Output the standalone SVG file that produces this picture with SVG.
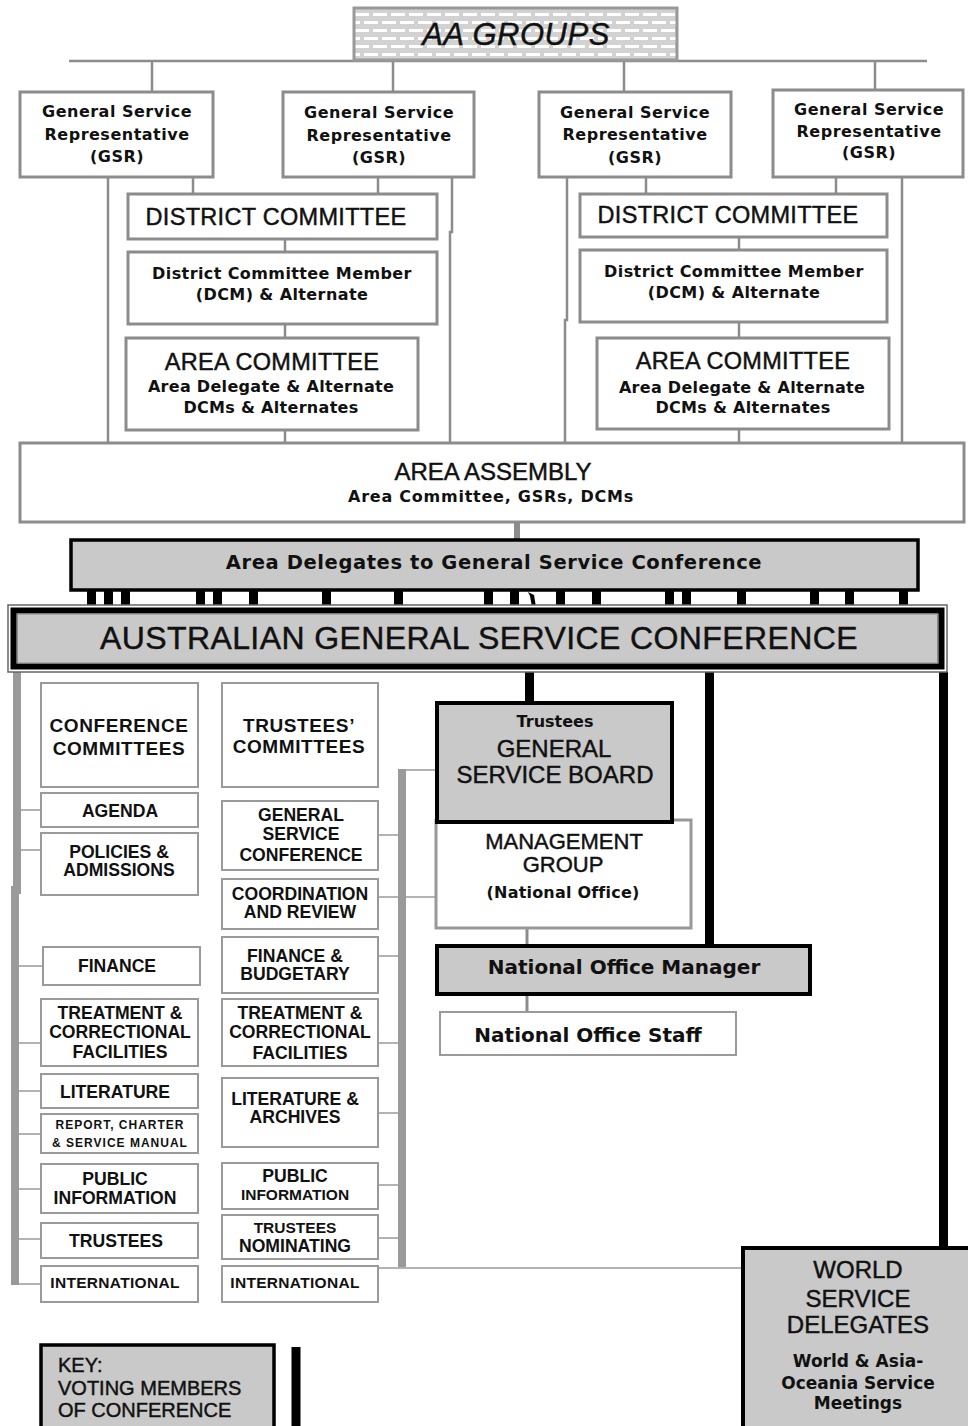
<svg xmlns="http://www.w3.org/2000/svg" width="968" height="1426" viewBox="0 0 968 1426">
<defs>
<pattern id="brick" width="18" height="16" patternUnits="userSpaceOnUse" x="354" y="8">
<rect width="18" height="16" fill="#d2d2d2"/>
<rect x="1" y="5" width="14" height="3" fill="#fff"/>
<rect x="10" y="13" width="8" height="3" fill="#fff"/>
<rect x="0" y="13" width="6" height="3" fill="#fff"/>
</pattern>
<style>
.g{fill:#fff;stroke:#8c8c8c;stroke-width:3}
.c{fill:#fff;stroke:#9a9a9a;stroke-width:2}
.d{fill:#c9c9c9;stroke:#000;stroke-width:4}
.ln{stroke:#8c8c8c;stroke-width:2.5;fill:none}
.lt{stroke:#9a9a9a;stroke-width:1.5;fill:none}
.gb{stroke:#9a9a9a;stroke-width:8;fill:none}
.bk{stroke:#000;stroke-width:9;fill:none}
.v{font-family:"DejaVu Sans",Verdana,sans-serif;font-weight:bold;fill:#111;text-anchor:middle;font-size:16px;letter-spacing:0.5px}
.a{font-family:"Liberation Sans",Arial,sans-serif;fill:#111;stroke:#111;stroke-width:0.45px;text-anchor:middle}
.ab{font-family:"Liberation Sans",Arial,sans-serif;font-weight:bold;fill:#111;text-anchor:middle;font-size:17.6px}
.s{font-size:15.5px}
.st{text-anchor:start}
</style>
</defs>

<g id="connectors">
<line class="ln" x1="69" y1="61" x2="927" y2="61"/>
<line class="ln" x1="152" y1="61" x2="152" y2="92"/>
<line class="ln" x1="393" y1="61" x2="393" y2="92"/>
<line class="ln" x1="624" y1="61" x2="624" y2="92"/>
<line class="ln" x1="875" y1="61" x2="875" y2="90"/>
<line class="ln" x1="108" y1="177" x2="108" y2="443"/>
<line class="ln" x1="193" y1="177" x2="193" y2="194"/>
<line class="ln" x1="378" y1="177" x2="378" y2="194"/>
<polyline class="ln" points="452,177 452,232 450,232 450,443"/>
<line class="ln" x1="285" y1="239" x2="285" y2="252"/>
<line class="ln" x1="285" y1="324" x2="285" y2="338"/>
<line class="ln" x1="285" y1="430" x2="285" y2="443"/>
<polyline class="ln" points="567,177 567,320 565,320 565,443"/>
<line class="ln" x1="646" y1="177" x2="646" y2="194"/>
<line class="ln" x1="836" y1="177" x2="836" y2="194"/>
<line class="ln" x1="902" y1="177" x2="902" y2="443"/>
<line class="ln" x1="739" y1="237" x2="739" y2="250"/>
<line class="ln" x1="739" y1="322" x2="739" y2="338"/>
<line class="ln" x1="739" y1="429" x2="739" y2="443"/>
<line x1="517" y1="522" x2="517" y2="540" stroke="#8c8c8c" stroke-width="6"/>
<g fill="#000">
<rect x="87" y="590" width="9" height="17"/>
<rect x="104" y="590" width="9" height="17"/>
<rect x="121" y="590" width="9" height="17"/>
<rect x="196" y="590" width="9" height="17"/>
<rect x="213" y="590" width="9" height="17"/>
<rect x="249" y="590" width="9" height="17"/>
<rect x="322" y="590" width="9" height="17"/>
<rect x="394" y="590" width="9" height="17"/>
<rect x="484" y="590" width="9" height="17"/>
<rect x="510" y="590" width="9" height="17"/>
<polygon points="528,592 534,595 536,607 532,607 530,596"/>
<rect x="556" y="590" width="9" height="17"/>
<rect x="592" y="590" width="9" height="17"/>
<rect x="665" y="590" width="9" height="17"/>
<rect x="682" y="590" width="9" height="17"/>
<rect x="737" y="590" width="9" height="17"/>
<rect x="810" y="590" width="9" height="17"/>
<rect x="845" y="590" width="9" height="17"/>
<rect x="899" y="590" width="9" height="17"/>
</g>
<line class="bk" x1="529.5" y1="672" x2="529.5" y2="703"/>
<line class="bk" x1="709.5" y1="672" x2="709.5" y2="946"/>
<line class="bk" x1="943.5" y1="672" x2="943.5" y2="1248"/>
<polyline class="gb" points="17,672 17,890 15,890 15,1285"/>
<line class="lt" x1="19" y1="810" x2="41" y2="810"/>
<line class="lt" x1="19" y1="850" x2="41" y2="850"/>
<line class="lt" x1="19" y1="966" x2="43" y2="966"/>
<line class="lt" x1="19" y1="1043" x2="41" y2="1043"/>
<line class="lt" x1="19" y1="1091" x2="41" y2="1091"/>
<line class="lt" x1="19" y1="1134" x2="41" y2="1134"/>
<line class="lt" x1="19" y1="1189" x2="41" y2="1189"/>
<line class="lt" x1="19" y1="1239" x2="41" y2="1239"/>
<line class="lt" x1="19" y1="1284" x2="41" y2="1284"/>
<line class="gb" x1="402" y1="769" x2="402" y2="1267"/>
<line class="lt" x1="378" y1="835" x2="398" y2="835"/>
<line class="lt" x1="378" y1="897" x2="436" y2="897"/>
<line class="lt" x1="378" y1="956" x2="398" y2="956"/>
<line class="lt" x1="378" y1="1043" x2="398" y2="1043"/>
<line class="lt" x1="378" y1="1113" x2="398" y2="1113"/>
<line class="lt" x1="378" y1="1185" x2="398" y2="1185"/>
<line class="lt" x1="378" y1="1238" x2="398" y2="1238"/>
<line class="lt" x1="402" y1="770" x2="436" y2="770"/>
<line class="lt" x1="378" y1="1268" x2="743" y2="1268"/>
<line x1="527" y1="928" x2="527" y2="945" stroke="#8c8c8c" stroke-width="3"/>
<line x1="527" y1="995" x2="527" y2="1012" stroke="#8c8c8c" stroke-width="3"/>
<line class="bk" x1="296" y1="1347" x2="296" y2="1426"/>
</g>

<g id="aa-groups">
<rect x="354" y="8" width="323" height="52" fill="url(#brick)" stroke="#999" stroke-width="3"/>
<text class="a" x="516" y="45" font-size="31" font-style="italic" letter-spacing="0.5">AA GROUPS</text>
</g>

<g id="gsr1"><rect class="g" x="20" y="92" width="193" height="85"/>
<text class="v" x="117" y="117">General Service</text><text class="v" x="117" y="140">Representative</text><text class="v" x="117" y="162">(GSR)</text></g>
<g id="gsr2"><rect class="g" x="283" y="92" width="191" height="85"/>
<text class="v" x="379" y="118">General Service</text><text class="v" x="379" y="141">Representative</text><text class="v" x="379" y="163">(GSR)</text></g>
<g id="gsr3"><rect class="g" x="539" y="92" width="192" height="85"/>
<text class="v" x="635" y="118">General Service</text><text class="v" x="635" y="140">Representative</text><text class="v" x="635" y="163">(GSR)</text></g>
<g id="gsr4"><rect class="g" x="773" y="90" width="190" height="87"/>
<text class="v" x="869" y="115">General Service</text><text class="v" x="869" y="137">Representative</text><text class="v" x="869" y="158">(GSR)</text></g>

<g id="district-committee-1"><rect class="g" x="128" y="194" width="309" height="45"/>
<text class="a" x="276" y="225" font-size="23.5" letter-spacing="0.3">DISTRICT COMMITTEE</text></g>
<g id="dcm-1"><rect class="g" x="128" y="252" width="309" height="72"/>
<text class="v" x="282" y="279" style="letter-spacing:0.4px">District Committee Member</text><text class="v" x="282" y="300" style="letter-spacing:0.4px">(DCM) &amp; Alternate</text></g>
<g id="area-committee-1"><rect class="g" x="126" y="338" width="292" height="92"/>
<text class="a" x="272" y="370" font-size="23.5" letter-spacing="0.3">AREA COMMITTEE</text>
<text class="v" x="271" y="392" style="letter-spacing:0.3px">Area Delegate &amp; Alternate</text>
<text class="v" x="271" y="413" style="letter-spacing:0.3px">DCMs &amp; Alternates</text></g>

<g id="district-committee-2"><rect class="g" x="580" y="194" width="307" height="43"/>
<text class="a" x="728" y="223" font-size="23.5" letter-spacing="0.3">DISTRICT COMMITTEE</text></g>
<g id="dcm-2"><rect class="g" x="580" y="250" width="307" height="72"/>
<text class="v" x="734" y="277" style="letter-spacing:0.4px">District Committee Member</text><text class="v" x="734" y="298" style="letter-spacing:0.4px">(DCM) &amp; Alternate</text></g>
<g id="area-committee-2"><rect class="g" x="597" y="338" width="292" height="91"/>
<text class="a" x="743" y="369" font-size="23.5" letter-spacing="0.3">AREA COMMITTEE</text>
<text class="v" x="742" y="393" style="letter-spacing:0.3px">Area Delegate &amp; Alternate</text>
<text class="v" x="743" y="413" style="letter-spacing:0.3px">DCMs &amp; Alternates</text></g>

<g id="area-assembly"><rect class="g" x="20" y="443" width="944" height="79"/>
<text class="a" x="493" y="480" font-size="24">AREA ASSEMBLY</text>
<text class="v" x="491" y="502" style="letter-spacing:0.75px">Area Committee, GSRs, DCMs</text></g>

<g id="area-delegates"><rect class="d" x="71" y="540" width="847" height="50" style="stroke-width:3.5px"/>
<text class="v" x="494" y="569" style="font-size:19.5px;letter-spacing:0.6px">Area Delegates to General Service Conference</text></g>

<g id="agsc">
<rect x="8" y="605" width="939" height="67" fill="#fff" stroke="#666" stroke-width="1.5"/>
<rect x="13.5" y="610.5" width="928" height="56" fill="#c9c9c9" stroke="#000" stroke-width="6"/>
<rect x="17.5" y="614" width="920" height="49" fill="none" stroke="#8c8c8c" stroke-width="1"/>
<text class="a" x="479" y="649" font-size="32" letter-spacing="0.4">AUSTRALIAN GENERAL SERVICE CONFERENCE</text></g>

<g id="conference-committees"><rect class="c" x="41" y="683" width="157" height="104"/>
<text class="ab" x="119" y="732" style="font-size:19px;letter-spacing:0.6px">CONFERENCE</text><text class="ab" x="119" y="755" style="font-size:19px;letter-spacing:0.6px">COMMITTEES</text></g>
<g id="trustees-committees"><rect class="c" x="222" y="683" width="156" height="104"/>
<text class="ab" x="299" y="732" style="font-size:19px;letter-spacing:0.6px">TRUSTEES’</text><text class="ab" x="299" y="753" style="font-size:19px;letter-spacing:0.6px">COMMITTEES</text></g>

<g id="agenda"><rect class="c" x="41" y="793" width="157" height="34"/><text class="ab" x="120" y="817">AGENDA</text></g>
<g id="policies"><rect class="c" x="41" y="833" width="157" height="62"/><text class="ab" x="119" y="858">POLICIES &amp;</text><text class="ab" x="119" y="876">ADMISSIONS</text></g>
<g id="finance"><rect class="c" x="43" y="947" width="157" height="38"/><text class="ab" x="117" y="972">FINANCE</text></g>
<g id="treatment-l"><rect class="c" x="41" y="999" width="157" height="67"/><text class="ab" x="120" y="1019">TREATMENT &amp;</text><text class="ab" x="120" y="1038">CORRECTIONAL</text><text class="ab" x="120" y="1058">FACILITIES</text></g>
<g id="literature"><rect class="c" x="41" y="1074" width="157" height="34"/><text class="ab" x="115" y="1098">LITERATURE</text></g>
<g id="report-charter"><rect class="c" x="41" y="1114" width="157" height="39"/><text class="ab" x="120" y="1129" style="font-size:12px;letter-spacing:1px">REPORT, CHARTER</text><text class="ab" x="120" y="1147" style="font-size:12px;letter-spacing:1px">&amp; SERVICE MANUAL</text></g>
<g id="public-info-l"><rect class="c" x="41" y="1164" width="157" height="49"/><text class="ab" x="115" y="1185">PUBLIC</text><text class="ab" x="115" y="1204">INFORMATION</text></g>
<g id="trustees-l"><rect class="c" x="41" y="1223" width="157" height="35"/><text class="ab" x="116" y="1247">TRUSTEES</text></g>
<g id="international-l"><rect class="c" x="41" y="1266" width="157" height="36"/><text class="ab s" x="115" y="1288" style="letter-spacing:0.3px">INTERNATIONAL</text></g>

<g id="gsc-committee"><rect class="c" x="222" y="801" width="156" height="69"/><text class="ab" x="301" y="821">GENERAL</text><text class="ab" x="301" y="840">SERVICE</text><text class="ab" x="301" y="861">CONFERENCE</text></g>
<g id="coordination"><rect class="c" x="222" y="879" width="156" height="50"/><text class="ab" x="300" y="900">COORDINATION</text><text class="ab" x="300" y="918">AND REVIEW</text></g>
<g id="finance-budgetary"><rect class="c" x="222" y="937" width="156" height="56"/><text class="ab" x="295" y="962">FINANCE &amp;</text><text class="ab" x="295" y="980">BUDGETARY</text></g>
<g id="treatment-r"><rect class="c" x="222" y="999" width="156" height="67"/><text class="ab" x="300" y="1019">TREATMENT &amp;</text><text class="ab" x="300" y="1038">CORRECTIONAL</text><text class="ab" x="300" y="1059">FACILITIES</text></g>
<g id="literature-archives"><rect class="c" x="222" y="1078" width="156" height="69"/><text class="ab" x="295" y="1105">LITERATURE &amp;</text><text class="ab" x="295" y="1123">ARCHIVES</text></g>
<g id="public-info-r"><rect class="c" x="222" y="1163" width="156" height="46"/><text class="ab" x="295" y="1182">PUBLIC</text><text class="ab s" x="295" y="1200">INFORMATION</text></g>
<g id="trustees-nominating"><rect class="c" x="222" y="1215" width="156" height="44"/><text class="ab s" x="295" y="1233">TRUSTEES</text><text class="ab" x="295" y="1252">NOMINATING</text></g>
<g id="international-r"><rect class="c" x="222" y="1266" width="156" height="36"/><text class="ab s" x="295" y="1288" style="letter-spacing:0.3px">INTERNATIONAL</text></g>

<g id="management-group"><rect x="436" y="820" width="255" height="108" fill="#fff" stroke="#999" stroke-width="3"/>
<text class="a" x="564" y="849" font-size="22">MANAGEMENT</text><text class="a" x="563" y="872" font-size="22">GROUP</text>
<text class="v" x="563" y="898" style="letter-spacing:0.2px">(National Office)</text></g>
<g id="general-service-board"><rect class="d" x="437" y="703" width="235" height="119"/>
<text class="v" x="555" y="727" style="letter-spacing:0">Trustees</text>
<text class="a" x="554" y="757" font-size="24">GENERAL</text><text class="a" x="555" y="783" font-size="24">SERVICE BOARD</text></g>
<g id="national-office-manager"><rect class="d" x="437" y="946" width="373" height="48"/>
<text class="v" x="624" y="974" style="font-size:20px;letter-spacing:0">National Office Manager</text></g>
<g id="national-office-staff"><rect class="c" x="440" y="1012" width="296" height="43"/>
<text class="v" x="588" y="1042" style="font-size:20px;letter-spacing:0">National Office Staff</text></g>

<g id="world-service-delegates"><rect class="d" x="743" y="1248" width="240" height="200"/>
<text class="a" x="858" y="1278" font-size="24">WORLD</text><text class="a" x="858" y="1307" font-size="24">SERVICE</text><text class="a" x="858" y="1333" font-size="24">DELEGATES</text>
<text class="v" x="858" y="1367" style="font-size:17px;letter-spacing:0">World &amp; Asia-</text><text class="v" x="858" y="1389" style="font-size:17px;letter-spacing:0">Oceania Service</text><text class="v" x="858" y="1409" style="font-size:17px;letter-spacing:0">Meetings</text></g>

<g id="key"><rect x="41" y="1345" width="233" height="100" fill="#c9c9c9" stroke="#000" stroke-width="3.5"/>
<text class="a st" x="58" y="1372" font-size="20">KEY:</text>
<text class="a st" x="58" y="1395" font-size="20">VOTING MEMBERS</text>
<text class="a st" x="58" y="1417" font-size="20">OF CONFERENCE</text></g>
</svg>
